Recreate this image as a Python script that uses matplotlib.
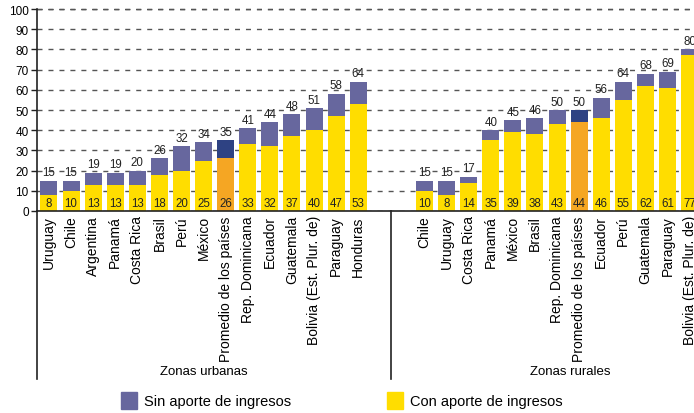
import matplotlib
matplotlib.use("Agg")
import matplotlib.pyplot as plt
import matplotlib.transforms as mtransforms

plt.rcParams['font.family'] = ['Liberation Sans', 'DejaVu Sans']

urban_countries = ["Uruguay", "Chile", "Argentina", "Panamá", "Costa Rica", "Brasil", "Perú",
                   "México", "Promedio de los países", "Rep. Dominicana", "Ecuador", "Guatemala",
                   "Bolivia (Est. Plur. de)", "Paraguay", "Honduras"]
urban_total = [15, 15, 19, 19, 20, 26, 32, 34, 35, 41, 44, 48, 51, 58, 64]
urban_con = [8, 10, 13, 13, 13, 18, 20, 25, 26, 33, 32, 37, 40, 47, 53]

rural_countries = ["Chile", "Uruguay", "Costa Rica", "Panamá", "México", "Brasil",
                   "Rep. Dominicana", "Promedio de los países", "Ecuador", "Perú", "Guatemala",
                   "Paraguay", "Bolivia (Est. Plur. de)"]
rural_total = [15, 15, 17, 40, 45, 46, 50, 50, 56, 64, 68, 69, 80]
rural_con = [10, 8, 14, 35, 39, 38, 43, 44, 46, 55, 62, 61, 77]

group_labels = ["Zonas urbanas", "Zonas rurales"]
legend_labels = ["Sin aporte de ingresos", "Con aporte de ingresos"]

YELLOW = "#FFDD00"
PURPLE = "#67679E"
ORANGE = "#F5A623"
NAVY = "#2E4283"

fig = plt.figure(figsize=(6.94, 4.14), dpi=100)
ax = fig.add_axes([37/694, 1 - 212/414, 1 - 37/694, 202/414])

x_urban = list(range(len(urban_countries)))
offset = len(urban_countries) + 2
x_rural = [offset + i for i in range(len(rural_countries))]

xs = x_urban + x_rural
names = urban_countries + rural_countries
totals = urban_total + rural_total
cons = urban_con + rural_con
sins = [t - c for t, c in zip(totals, cons)]
is_avg = [n.startswith("Promedio") for n in names]

bw = 0.77
ax.bar(xs, cons, width=bw, color=[ORANGE if a else YELLOW for a in is_avg], zorder=2)
ax.bar(xs, sins, bottom=cons, width=bw, color=[NAVY if a else PURPLE for a in is_avg], zorder=2)

for x, t, c in zip(xs, totals, cons):
    ax.text(x, t + 1.2, str(t), ha="center", va="bottom", fontsize=8.3, color="#222222", zorder=3)
    ax.text(x, 0.8, str(c), ha="center", va="bottom", fontsize=8.3, color="#222222", zorder=3)

ax.set_ylim(0, 100)
ax.set_xlim(-0.54, 29.2)
ax.set_yticks(range(0, 101, 10))
ax.tick_params(axis="y", labelsize=8.5, length=4, width=1, pad=2, color="#222222")
ax.set_xticks(xs)
ax.set_xticklabels(names, rotation=90, fontsize=10, va="top", ha="center")
ax.tick_params(axis="x", length=0, pad=3)
ax.yaxis.grid(True, linestyle=(0, (3.6, 4.3)), color="#555555", linewidth=1.0, zorder=0)
ax.axhline(100, linestyle=(0, (3.6, 4.3)), color="#111111", linewidth=1.0, zorder=0, clip_on=False)
ax.set_axisbelow(True)
for s in ["top", "right"]:
    ax.spines[s].set_visible(False)
ax.spines["left"].set_linewidth(1.2)
ax.spines["bottom"].set_linewidth(1.2)
ax.spines["left"].set_color("#222222")
ax.spines["bottom"].set_color("#222222")

trans = mtransforms.blended_transform_factory(ax.transData, ax.transAxes)
sep_x = (x_urban[-1] + x_rural[0]) / 2
for xv in [-0.54, sep_x]:
    ax.plot([xv, xv], [0, -0.832], transform=trans, color="#222222", linewidth=1.2, clip_on=False)

ax.text((x_urban[0] + x_urban[-1]) / 2, -0.79, group_labels[0], transform=trans,
        ha="center", va="center", fontsize=9.5)
ax.text(23.6, -0.79, group_labels[1], transform=trans,
        ha="center", va="center", fontsize=9.5)

fig.text(144/694, 1 - 402/414, legend_labels[0], fontsize=10.5, va="center", ha="left")
fig.text(410/694, 1 - 402/414, legend_labels[1], fontsize=10.5, va="center", ha="left")
fig.patches.append(plt.Rectangle((121/694, 1 - 410/414), 16/694, 17/414, color=PURPLE,
                                 transform=fig.transFigure, figure=fig))
fig.patches.append(plt.Rectangle((387/694, 1 - 410/414), 16/694, 17/414, color=YELLOW,
                                 transform=fig.transFigure, figure=fig))

fig.savefig("out.png", dpi=100)
